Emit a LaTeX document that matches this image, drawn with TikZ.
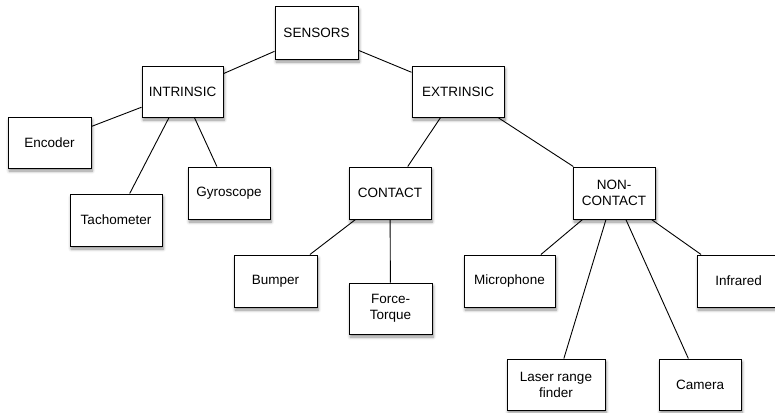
\documentclass[tikz,border=0pt]{standalone}
\usepackage{fontspec}
\setmainfont{Liberation Sans}
\usetikzlibrary{shadows.blur}
\begin{document}
\begin{tikzpicture}[x=1pt,y=-1pt,
  box/.style={draw=black, line width=1pt, fill=white, inner sep=0pt, align=center,
    font=\fontsize{13.5}{16}\selectfont,
    blur shadow={shadow xshift=1.2pt, shadow yshift=-3pt, shadow blur radius=3pt,
      shadow blur steps=6, shadow opacity=45}},
  link/.style={draw=black, line width=0.9pt}]
\useasboundingbox (0,0) rectangle (775,412);
\node[box, minimum width=83pt, minimum height=52pt] (sensors) at (316.5,33) {SENSORS};
\node[box, minimum width=81pt, minimum height=51pt] (intrinsic) at (182.5,91.5) {INTRINSIC};
\node[box, minimum width=92pt, minimum height=51pt] (extrinsic) at (458,91.5) {EXTRINSIC};
\node[box, minimum width=83pt, minimum height=51pt] (encoder) at (49.5,142.5) {Encoder};
\node[box, minimum width=92pt, minimum height=52pt] (tacho) at (116,220) {Tachometer};
\node[box, minimum width=82pt, minimum height=52pt] (gyro) at (229,193) {Gyroscope};
\node[box, minimum width=82pt, minimum height=52pt] (contact) at (390,193) {CONTACT};
\node[box, minimum width=82pt, minimum height=52pt] (noncontact) at (614,193) {NON-\\CONTACT};
\node[box, minimum width=83pt, minimum height=52pt] (bumper) at (275.5,281) {Bumper};
\node[box, minimum width=83pt, minimum height=51pt] (force) at (390.5,308.5) {Force-\\Torque};
\node[box, minimum width=91pt, minimum height=52pt] (micro) at (509.5,281) {Microphone};
\node[box, minimum width=83pt, minimum height=52pt] (infrared) at (738.5,281) {Infrared};
\node[box, minimum width=98pt, minimum height=51pt] (laser) at (556,384.5) {Laser range\\finder};
\node[box, minimum width=82pt, minimum height=51pt] (camera) at (700,384.5) {Camera};
\draw[link] (sensors) -- (intrinsic);
\draw[link] (sensors) -- (extrinsic);
\draw[link] (intrinsic) -- (encoder);
\draw[link] (intrinsic) -- (tacho);
\draw[link] (intrinsic) -- (gyro);
\draw[link] (extrinsic) -- (contact);
\draw[link] (extrinsic) -- (noncontact);
\draw[link] (contact) -- (bumper);
\draw[link] (contact) -- (force);
\draw[link] (noncontact) -- (micro);
\draw[link] (noncontact) -- (laser);
\draw[link] (noncontact) -- (camera);
\draw[link] (noncontact) -- (infrared);
\end{tikzpicture}
\end{document}
